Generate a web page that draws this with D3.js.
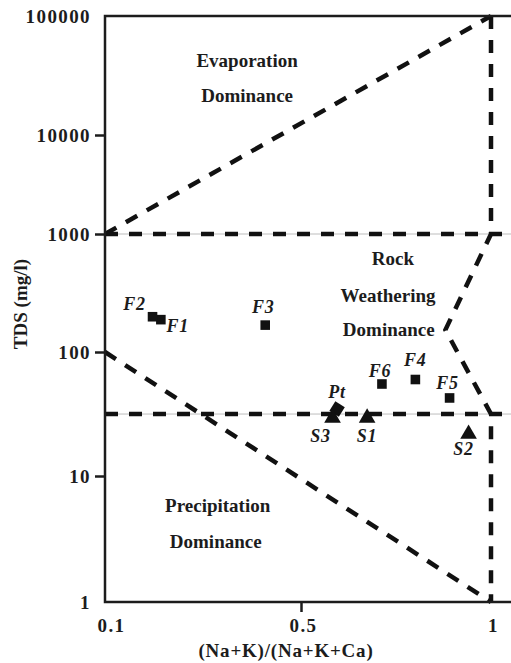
<!DOCTYPE html>
<html>
<head>
<meta charset="utf-8">
<script src="https://cdn.jsdelivr.net/npm/d3@7"></script>
<style>
  html, body { margin: 0; padding: 0; background: #fff; }
  svg { display: block; }
</style>
</head>
<body>
<svg id="chart" width="511" height="663"></svg>
<script>
// Sample identifiers and their measured values
const sampleIds   = ["F1", "F2", "F3", "F4", "F5", "F6", "Pt", "S1", "S2", "S3"];
const ratioValues = [0.214, 0.197, 0.427, 0.801, 0.891, 0.713, 0.595, 0.674, 0.941, 0.583]; // (Na+K)/(Na+K+Ca)
const tdsValues   = [188, 199, 169, 60, 42.6, 55.2, 34.7, 29.4, 21.8, 29.4];                 // TDS, mg/l

// Axis ticks
const xTickValues = [0.1, 0.5, 1];
const xTickLabels = ["0.1", "0.5", "1"];
const yTickValues = [1, 10, 100, 1000, 10000, 100000];
const yTickLabels = ["1", "10", "100", "1000", "10000", "100000"];

// Gibbs boundary lines, in data units [ratio, TDS]
const evaporationEdge = [[0.1, 1000], [1, 100000]];
const rightEdge       = [[1, 100000], [1, 1000], [0.88, 154], [1, 31.6], [1, 1]];
const precipEdge      = [[0.1, 100], [1, 1]];
const upperLevel      = [[0.1, 1000], [1.06, 1000]];
const lowerLevel      = [[0.1, 31.6], [1.06, 31.6]];

// Field names, one entry per line, anchored in data units
const regionText = ["Evaporation", "Dominance", "Rock", "Weathering", "Dominance", "Precipitation", "Dominance"];
const regionAt   = [[0.39, 37200], [0.39, 18800], [0.742, 546], [0.729, 265], [0.731, 136], [0.33, 5.18], [0.326, 2.68]];

const serif = "'Liberation Serif', 'Times New Roman', Times, serif";
const ink = "#1c1c1c";

const svg = d3.select("#chart");

const x = d3.scaleLinear().domain([0.1, 0.5, 1]).range([105, 301, 491]);
const y = d3.scaleLog().domain([1, 10, 100, 1000, 10000, 100000])
  .range([602, 476, 352, 234, 135, 16]);

const line = d3.line().x(d => x(d[0])).y(d => y(d[1]));

// Thin guide under the horizontal dashed levels
[upperLevel, lowerLevel].forEach(seg => {
  svg.append("path").attr("d", line(seg))
    .attr("fill", "none").attr("stroke", "#bdbdbd").attr("stroke-width", 1);
});

// Dashed boundaries
[evaporationEdge, rightEdge, precipEdge, upperLevel, lowerLevel].forEach(seg => {
  svg.append("path").attr("d", line(seg))
    .attr("fill", "none").attr("stroke", "#111")
    .attr("stroke-width", 4.5)
    .attr("stroke-dasharray", "13,11")
    .attr("stroke-linejoin", "miter");
});

// Frame (left, top, bottom; the right side runs off the page)
const xEnd = x(1.06);
svg.append("path")
  .attr("d", `M${xEnd},${y(100000)}H${x(0.1)}V${y(1)}H${xEnd}`)
  .attr("fill", "none").attr("stroke", ink).attr("stroke-width", 2.5);

// Y axis
const yAxis = d3.axisLeft(y)
  .tickValues(yTickValues)
  .tickFormat((d, i) => yTickLabels[i])
  .tickSize(10).tickPadding(4);
const gy = svg.append("g").attr("transform", `translate(${x(0.1)},0)`).call(yAxis);
gy.select(".domain").remove();
gy.selectAll(".tick line").attr("stroke", ink).attr("stroke-width", 2.5)
  .filter(d => d === 1 || d === 100000).remove();
gy.selectAll(".tick text")
  .attr("fill", ink)
  .style("font-family", serif).style("font-weight", "bold")
  .style("font-size", "19px").style("letter-spacing", "1.4px");

// X axis
const xAxis = d3.axisBottom(x)
  .tickValues(xTickValues)
  .tickFormat((d, i) => xTickLabels[i])
  .tickSize(10).tickPadding(7);
const gx = svg.append("g").attr("transform", `translate(0,${y(1)})`).call(xAxis);
gx.select(".domain").remove();
gx.selectAll(".tick line").attr("stroke", ink).attr("stroke-width", 2.5)
  .filter(d => d !== 0.5).remove();
gx.selectAll(".tick text")
  .attr("fill", ink)
  .attr("dx", d => d === 0.1 ? 6 : 2)
  .style("font-family", serif).style("font-weight", "bold")
  .style("font-size", "19px").style("letter-spacing", "1.4px");

// Axis titles
svg.append("text")
  .attr("transform", `translate(27,${(y(100) + y(1000)) / 2 + 11}) rotate(-90)`)
  .attr("text-anchor", "middle").attr("fill", ink)
  .style("font-family", serif).style("font-weight", "bold").style("font-size", "19px")
  .text("TDS (mg/l)");

svg.append("text")
  .attr("x", x(0.5) - 15).attr("y", 657)
  .attr("text-anchor", "middle").attr("fill", ink)
  .style("font-family", serif).style("font-weight", "bold").style("font-size", "19px")
  .style("letter-spacing", "0.8px")
  .text("(Na+K)/(Na+K+Ca)");

// Field names
svg.append("g").selectAll("text")
  .data(regionText)
  .join("text")
  .attr("x", (d, i) => x(regionAt[i][0]))
  .attr("y", (d, i) => y(regionAt[i][1]))
  .attr("text-anchor", "middle").attr("fill", ink)
  .style("font-family", serif).style("font-weight", "bold").style("font-size", "19px")
  .text(d => d);

// Samples
const samples = sampleIds.map((id, i) => ({ id, ratio: ratioValues[i], tds: tdsValues[i] }));

const shapeFor = id => id.startsWith("S") ? d3.symbolTriangle : d3.symbolSquare;
const sizeFor = id => id.startsWith("F") ? 92 : id.startsWith("S") ? 120 : 125;

svg.append("g").selectAll("path.mark")
  .data(samples)
  .join("path")
  .attr("class", "mark")
  .attr("d", d => d3.symbol().type(shapeFor(d.id)).size(sizeFor(d.id))())
  .attr("transform", d => `translate(${x(d.ratio)},${y(d.tds)})` + (d.id === "Pt" ? " rotate(32)" : ""))
  .attr("fill", "#111");

// Sample label placement relative to each mark (px)
const labelShift = {
  F1: [17, 12], F2: [-18, -7], F3: [-2, -12], F4: [0, -14], F5: [-2, -9],
  F6: [-2, -7], Pt: [0, -11], S1: [0, 24], S2: [-5, 21], S3: [-12, 24]
};

svg.append("g").selectAll("text")
  .data(samples)
  .join("text")
  .attr("x", d => x(d.ratio) + labelShift[d.id][0])
  .attr("y", d => y(d.tds) + labelShift[d.id][1])
  .attr("text-anchor", "middle").attr("fill", ink)
  .style("font-family", serif).style("font-weight", "bold").style("font-style", "italic")
  .style("font-size", "18px").style("letter-spacing", "0.8px")
  .text(d => d.id);
</script>
</body>
</html>
